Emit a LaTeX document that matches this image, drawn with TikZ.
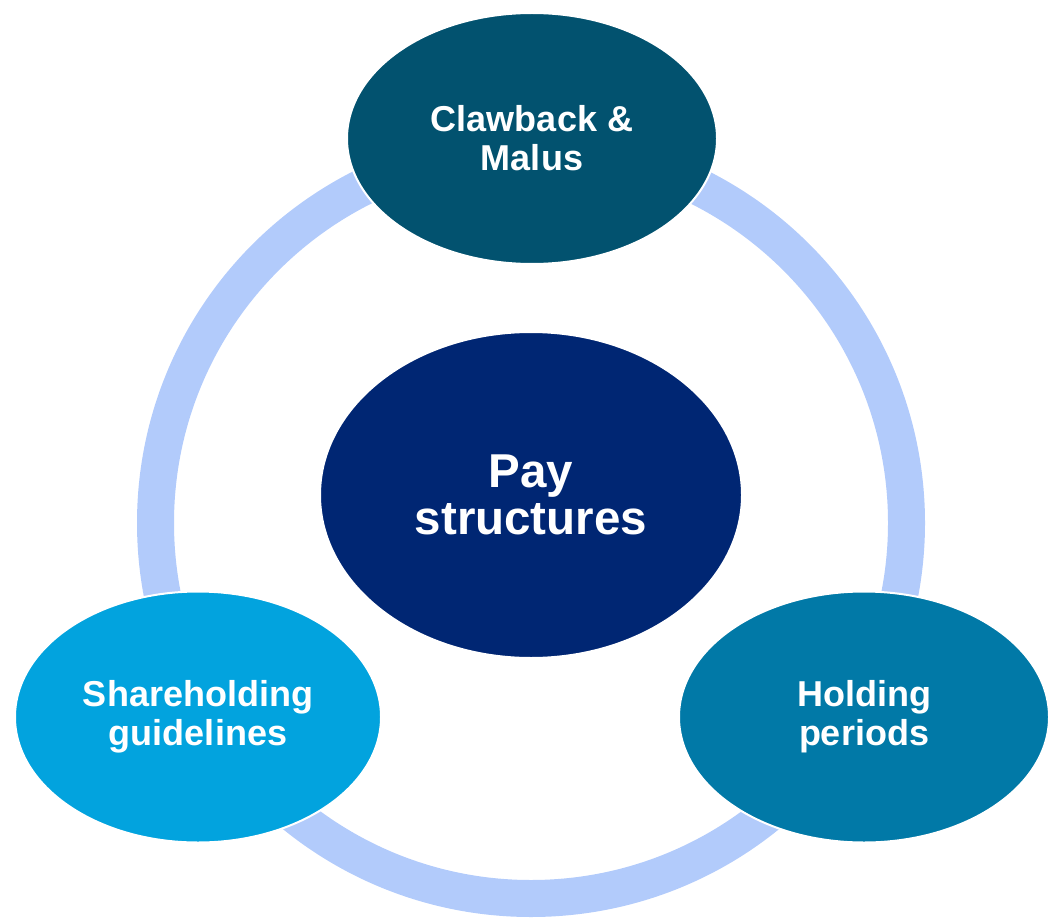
\documentclass[tikz,border=0pt]{standalone}
\usepackage{fontspec}
\setmainfont{Liberation Sans}
\usetikzlibrary{shapes.geometric}
\definecolor{ringblue}{HTML}{B2CBFB}
\definecolor{tealdark}{HTML}{02526F}
\definecolor{navy}{HTML}{002673}
\definecolor{skyblue}{HTML}{02A3DE}
\definecolor{ocean}{HTML}{0179A7}
\tikzset{
  bubble/.style={ellipse, draw=white, line width=2pt, inner sep=0pt,
    text=white, align=center,
    font=\fontsize{36}{39}\selectfont\bfseries},
  hub/.style={bubble, font=\fontsize{47.5}{47}\selectfont\bfseries},
}
\begin{document}
\begin{tikzpicture}[x=1pt,y=-1pt]
  \useasboundingbox (0,0) rectangle (1048,917);
  % connecting ring
  \coordinate (c) at (531,523);
  \draw[ringblue, line width=37pt] (c) circle[radius=375.5];
  % bubbles
  \node[hub, fill=navy, minimum width=422pt, minimum height=326pt] (pay) at (531,495) {Pay\\structures};
  \node[bubble, fill=tealdark, minimum width=370pt, minimum height=251pt] (claw) at (532,138.5) {Clawback \&\\Malus};
  \node[bubble, fill=skyblue, minimum width=366pt, minimum height=251pt] (share) at (198,717) {Shareholding\\guidelines};
  \node[bubble, fill=ocean, minimum width=370pt, minimum height=251pt] (hold) at (864,717) {Holding\\periods};
\end{tikzpicture}
\end{document}
